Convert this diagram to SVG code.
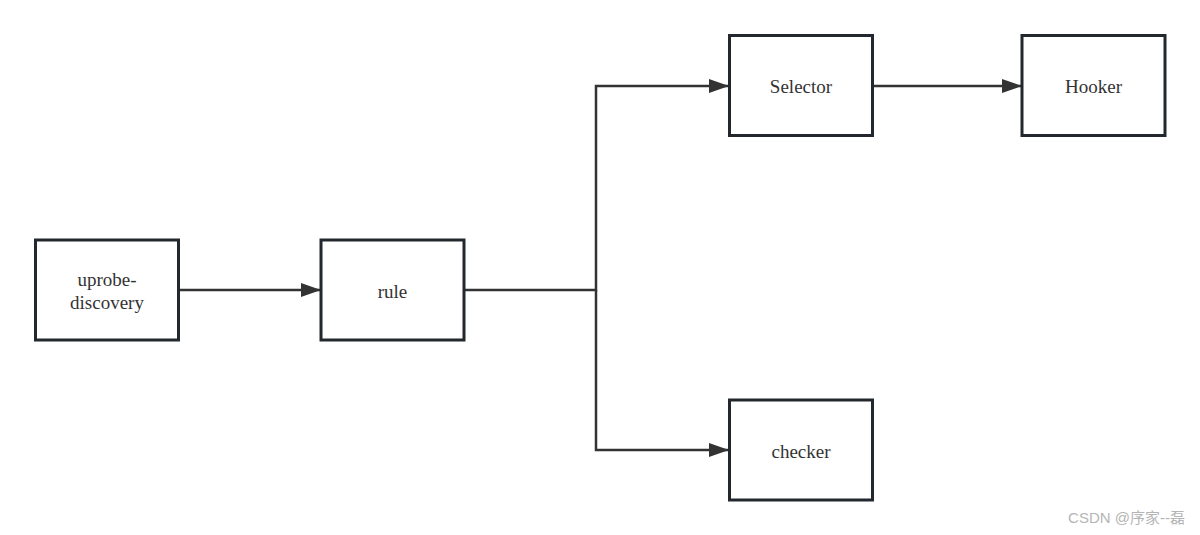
<svg xmlns="http://www.w3.org/2000/svg" width="1200" height="535" viewBox="0 0 1200 535">
<style>
.node rect{fill:#ffffff;stroke:#23282e;stroke-width:3}
.node text{font-family:"Liberation Serif",serif;font-size:19px;fill:#333333;text-anchor:middle}
.edge{fill:none;stroke:#333333;stroke-width:2.5}
.wm{font-family:"Liberation Sans","Noto Sans CJK SC",sans-serif;font-size:15px;fill:#b5b5b5}
</style>
<defs>
<marker id="arr" viewBox="0 0 20 14" refX="20" refY="7" markerWidth="20" markerHeight="14" markerUnits="userSpaceOnUse" orient="auto">
<path d="M0,0 L20,7 L0,14 Z" fill="#333333"/>
</marker>
</defs>
<rect width="1200" height="535" fill="#ffffff"/>
<g id="connectors">
<path class="edge" d="M178,290 H321" marker-end="url(#arr)"/>
<path class="edge" d="M464,290 H596 V86 H729" marker-end="url(#arr)"/>
<path class="edge" d="M596,290 V450 H729" marker-end="url(#arr)"/>
<path class="edge" d="M872,86 H1022" marker-end="url(#arr)"/>
</g>
<g id="uprobe-discovery" class="node">
<rect x="35.5" y="240" width="143" height="100"/>
<text x="107" y="286">uprobe-</text>
<text x="107" y="309">discovery</text>
</g>
<g id="rule" class="node">
<rect x="321" y="240" width="143" height="100"/>
<text x="392.5" y="298">rule</text>
</g>
<g id="selector" class="node">
<rect x="729.5" y="35.5" width="143" height="100"/>
<text x="801" y="93">Selector</text>
</g>
<g id="hooker" class="node">
<rect x="1022" y="35.5" width="143" height="100"/>
<text x="1093.5" y="93">Hooker</text>
</g>
<g id="checker" class="node">
<rect x="729.5" y="400" width="143" height="100"/>
<text x="801" y="458">checker</text>
</g>
<text class="wm" x="1185" y="523" text-anchor="end">CSDN @序家--磊</text>
</svg>
